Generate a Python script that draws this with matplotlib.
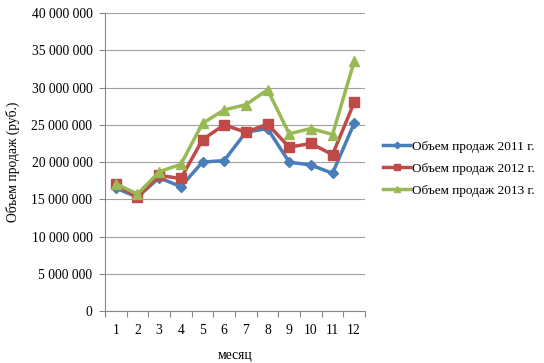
import matplotlib.pyplot as plt
from matplotlib.ticker import FuncFormatter, MultipleLocator, FixedLocator

plt.rcParams['font.family'] = ['Liberation Serif', 'DejaVu Serif']

months = ['1', '2', '3', '4', '5', '6', '7', '8', '9', '10', '11', '12']
sales_2011 = [16.5, 15.3, 17.9, 16.7, 20.0, 20.2, 24.0, 24.5, 20.0, 19.6, 18.5, 25.2]
sales_2012 = [17.0, 15.3, 18.2, 17.8, 23.0, 25.0, 24.0, 25.1, 22.0, 22.5, 21.0, 28.0]
sales_2013 = [17.1, 15.7, 18.7, 19.7, 25.2, 27.0, 27.7, 29.7, 23.8, 24.5, 23.7, 33.5]
labels = ['Объем продаж 2011 г.', 'Объем продаж 2012 г.', 'Объем продаж 2013 г.']

fig = plt.figure(figsize=(5.44, 3.63), dpi=100)
ax = fig.add_axes([0.193, 0.143, 0.478, 0.821])

x = [i + 0.5 for i in range(len(months))]
series = [(sales_2011, '#4A7EBB', 'D', 5.5),
          (sales_2012, '#BE4B48', 's', 7),
          (sales_2013, '#98B954', '^', 7.5)]
for (vals, col, mk, ms), lab in zip(series, labels):
    ax.plot(x, [v * 1e6 for v in vals], color=col, marker=mk, markersize=ms,
            linewidth=2.5, label=lab)

ax.set_xlim(0, 12)
ax.set_ylim(0, 40e6)
ax.yaxis.set_major_locator(MultipleLocator(5e6))
ax.yaxis.set_major_formatter(FuncFormatter(lambda v, p: f"{int(v):,}".replace(',', ' ')))
ax.xaxis.set_major_locator(FixedLocator(range(13)))
ax.xaxis.set_major_formatter(FuncFormatter(lambda v, p: ''))
ax.set_xticks(x, months, minor=True)
ax.tick_params(axis='x', which='minor', length=0, labelsize=9.8, pad=9)
ax.tick_params(axis='x', which='major', length=4, color='#888888', direction='out')
ax.tick_params(axis='y', length=4, color='#888888', labelsize=9.8, pad=5)

ax.grid(axis='y', color='#a0a0a0', linewidth=0.8)
ax.set_axisbelow(True)
for s in ['top', 'right']:
    ax.spines[s].set_visible(False)
for s in ['left', 'bottom']:
    ax.spines[s].set_color('#888888')

ax.set_xlabel('месяц', fontsize=9.8, labelpad=9)
ax.set_ylabel('Объем продаж (руб.)', fontsize=9.8, labelpad=8)

fig.legend(loc='center left', bbox_to_anchor=(0.683, 0.535), frameon=False,
           fontsize=9.5, handlelength=2.0, handletextpad=0.2, labelspacing=0.75,
           markerscale=0.6)

fig.savefig('out.png', dpi=100)
